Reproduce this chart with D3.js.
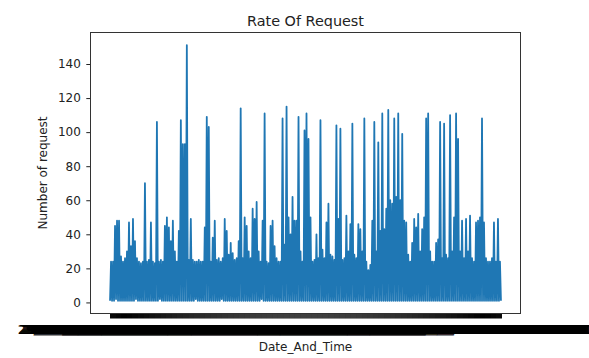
<!DOCTYPE html>
<html>
<head>
<meta charset="utf-8">
<script src="https://cdn.jsdelivr.net/npm/d3@7"></script>
<style>
  body { margin: 0; background: #fff; }
  svg { display: block; font-family: "DejaVu Sans", sans-serif; }
</style>
</head>
<body>
<svg id="chart" width="589" height="358"></svg>
<script>
// Titles
const chartTitle = "Rate Of Request";
const xTitle = "Date_And_Time";
const yTitle = "Number of request";

// Y axis tick values
const yTicks = [0, 20, 40, 60, 80, 100, 120, 140];

// Timestamp of the first sample; one sample per minute
const firstStamp = "2017-11-29T06:00:00Z";

// Requests counted per timestamp
const requests = [
  1,24, 1,24, 1,45, 2,48, 1,48, 1,27, 1,24, 1,26, 1,30, 1,47,
  1,33, 1,49, 1,36, 2,26, 1,24, 1,23, 1,24, 1,70, 1,24, 1,25,
  1,47, 1,24, 1,23, 1,106, 1,24, 2,25, 1,24, 1,45, 1,50, 1,44,
  1,36, 1,48, 1,30, 1,24, 1,42, 1,107, 1,93, 1,93, 1,151, 1,25,
  1,49, 1,25, 1,24, 2,24, 1,25, 1,24, 1,24, 1,44, 1,109, 1,103,
  1,24, 1,38, 1,48, 1,25, 1,26, 1,24, 2,26, 1,49, 1,42, 1,28,
  1,35, 1,29, 1,25, 1,26, 1,36, 1,114, 1,26, 1,50, 1,45, 1,30,
  1,26, 1,55, 1,49, 1,59, 1,30, 1,24, 2,48, 1,111, 1,24, 1,23,
  1,45, 1,48, 1,33, 1,26, 1,24, 1,24, 1,108, 1,34, 1,115, 1,50,
  1,40, 1,62, 1,48, 1,48, 1,109, 1,30, 1,24, 1,101, 1,111, 1,96,
  1,50, 1,24, 1,25, 1,40, 1,26, 1,107, 1,31, 1,26, 1,47, 1,58,
  1,28, 1,27, 1,25, 1,104, 1,49, 1,102, 1,25, 1,26, 1,51, 1,30,
  1,46, 1,105, 1,28, 1,26, 1,46, 1,43, 1,30, 1,108, 1,24, 1,19,
  1,22, 1,48, 1,106, 1,30, 1,94, 1,42, 1,111, 1,43, 1,55, 1,113,
  1,60, 1,58, 1,108, 1,62, 1,111, 1,60, 1,99, 1,48, 1,47, 1,28,
  1,24, 1,35, 1,49, 1,44, 1,52, 1,30, 1,43, 1,50, 1,108, 1,111,
  1,30, 1,24, 1,24, 1,35, 1,37, 1,106, 1,26, 1,105, 1,28, 1,26,
  1,110, 1,30, 1,50, 1,111, 1,96, 1,30, 1,48, 1,26, 1,49, 1,30,
  1,51, 1,26, 1,24, 1,47, 1,48, 1,50, 1,108, 1,47, 1,26, 1,24,
  1,24, 1,26, 1,47, 1,24, 1,49, 1,24, 1
];

const stampFormat = d3.utcFormat("%d/%b/%Y:%H:%M:%S +0000");
const start = new Date(firstStamp);
const stamps = requests.map((_, i) => stampFormat(d3.utcMinute.offset(start, i)));

// Plot frame
const frame = { left: 90.5, right: 520.5, top: 32.5, bottom: 313.5 };
const svg = d3.select("#chart");

const n = requests.length;
const xPad = 0.05 * (n - 1);
const x = d3.scaleLinear()
  .domain([-xPad, n - 1 + xPad])
  .range([frame.left, frame.right]);

const [vMin, vMax] = d3.extent(requests);
const yPad = 0.05 * (vMax - vMin);
const y = d3.scaleLinear()
  .domain([vMin - yPad, vMax + yPad])
  .range([frame.bottom, frame.top]);

// Request line
svg.append("path")
  .datum(requests)
  .attr("fill", "none")
  .attr("stroke", "#1f77b4")
  .attr("stroke-width", 1.8)
  .attr("stroke-linejoin", "round")
  .attr("d", d3.line().x((d, i) => x(i)).y(d => y(d)));

// Y axis
const yAxis = svg.append("g")
  .attr("transform", `translate(${frame.left},0)`)
  .call(d3.axisLeft(y).tickValues(yTicks).tickSize(4.2).tickPadding(5.5));
yAxis.select(".domain").remove();
yAxis.selectAll("line").attr("stroke", "#222").attr("stroke-width", 1);
yAxis.selectAll("text")
  .attr("font-family", "DejaVu Sans, sans-serif")
  .attr("font-size", 12)
  .attr("fill", "#222");

// X axis: one tick per timestamp
const xAxis = svg.append("g")
  .attr("transform", `translate(0,${frame.bottom})`)
  .call(d3.axisBottom(x)
    .tickValues(d3.range(n))
    .tickFormat(i => stamps[i])
    .tickSize(5)
    .tickPadding(6.5));
xAxis.select(".domain").remove();
xAxis.selectAll("line").attr("stroke", "#000").attr("stroke-width", 1);
xAxis.selectAll("text")
  .attr("font-family", "DejaVu Sans, sans-serif")
  .attr("font-size", 12.4)
  .attr("fill", "#000");

// Frame
svg.append("rect")
  .attr("x", frame.left)
  .attr("y", frame.top)
  .attr("width", frame.right - frame.left)
  .attr("height", frame.bottom - frame.top)
  .attr("fill", "none")
  .attr("stroke", "#333")
  .attr("stroke-width", 1);

const cx = (frame.left + frame.right) / 2;

svg.append("text")
  .attr("x", cx)
  .attr("y", 26)
  .attr("text-anchor", "middle")
  .attr("font-size", 14.4)
  .attr("fill", "#222")
  .text(chartTitle);

svg.append("text")
  .attr("x", cx)
  .attr("y", 351)
  .attr("text-anchor", "middle")
  .attr("font-size", 12)
  .attr("fill", "#222")
  .text(xTitle);

svg.append("text")
  .attr("transform", `translate(47,${(frame.top + frame.bottom) / 2}) rotate(-90)`)
  .attr("text-anchor", "middle")
  .attr("font-size", 12)
  .attr("fill", "#222")
  .text(yTitle);
</script>
</body>
</html>
